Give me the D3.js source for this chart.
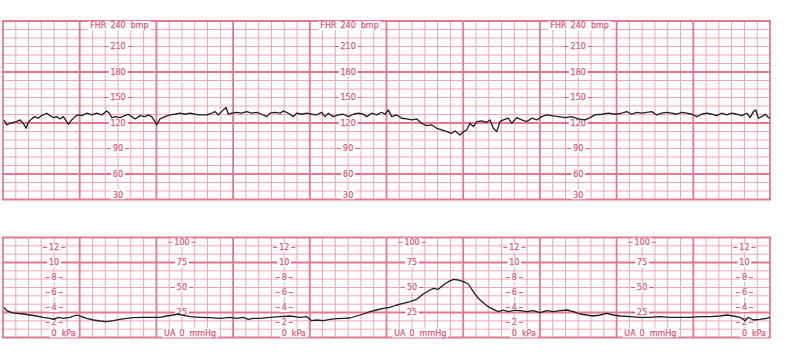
<!DOCTYPE html>
<html><head><meta charset="utf-8">
<script src="https://cdn.jsdelivr.net/npm/d3@7"></script>
<style>body{margin:0;background:#fff}svg{display:block}</style>
</head><body>
<svg id="c" width="791" height="354"></svg>
<script>
// ---------- data ----------
const fhrTickLabels = [210, 180, 150, 120, 90, 60, 30];
const fhrTopLabel = 240;
const uaMmHgTickLabels = [75, 50, 25];
const uaMmHgTopLabel = 100;
const uaKpaTickLabels = [12, 10, 8, 6, 4, 2];
const fhrLabelColumns = [90, 270, 450];      // seconds
const mmHgLabelColumns = [140, 320, 500];    // seconds
const kpaLabelColumns = [40, 220, 400, 580]; // seconds

const fhrTime = [0.8,2.9,5.5,8.1,10.7,13.3,15.9,18.0,19.8,22.4,25.0,27.6,30.2,34.2,36.8,39.4,42.0,44.6,47.2,49.8,51.1,53.7,56.3,58.9,61.6,65.5,69.4,73.3,77.2,81.1,83.2,85.0,87.6,91.5,95.4,98.0,100.7,103.3,107.2,111.1,113.7,116.3,118.9,120.2,122.8,126.7,130.6,134.6,138.5,142.4,146.3,150.2,154.1,159.4,163.3,165.9,168.4,172.4,174.5,176.3,178.9,182.8,186.7,190.6,194.6,198.5,202.4,206.3,208.9,212.8,216.7,219.3,223.2,227.1,229.7,233.7,237.6,241.5,245.4,249.3,251.9,254.5,258.4,262.3,266.2,270.2,274.1,278.0,281.9,284.5,288.4,292.3,296.2,298.8,301.4,304.1,308.0,311.9,315.8,319.7,323.6,327.5,331.4,335.4,339.3,343.2,347.1,351.0,353.6,357.5,360.1,362.7,365.3,368.0,370.6,374.5,378.4,381.0,383.6,386.2,388.8,391.4,395.3,398.0,401.9,405.8,409.7,413.6,417.5,421.4,425.3,429.2,434.4,439.7,444.9,450.1,455.3,459.2,463.1,468.4,473.6,478.8,484.0,487.9,491.8,495.8,499.7,503.6,507.5,511.4,515.3,519.2,523.1,527.0,530.9,534.9,538.8,542.7,546.6,550.5,554.4,558.3,562.2,566.2,570.1,574.0,577.9,581.8,584.4,587.0,588.9,590.9,593.6,596.2,598.8,600];
const fhrBpm = [123.6,117.7,119.7,120.8,121.6,123.6,119.7,113.8,120.8,124.8,127.5,125.6,128.7,131.5,128.7,126.4,127.5,124.8,127.5,121.6,118.5,123.6,127.5,129.5,128.7,131.5,129.5,131.5,129.5,134.2,131.5,126.4,127.5,126.4,128.7,130.3,127.5,124.8,128.7,127.5,129.5,127.5,121.6,117.7,124.8,127.5,129.5,130.3,131.5,130.3,131.5,130.3,129.5,129.5,131.5,133.4,129.5,135.4,138.2,130.3,131.5,132.6,131.5,133.4,131.5,132.6,130.3,127.5,131.5,132.6,131.5,134.2,131.5,127.5,131.5,130.3,131.5,130.3,129.5,132.6,127.5,131.5,127.5,129.5,130.3,127.5,130.3,131.5,130.3,127.5,131.5,129.5,132.6,130.3,135.4,127.5,129.5,125.6,124.8,123.6,124.8,119.7,116.9,117.7,113.8,111.8,109.8,107.9,110.6,105.9,109.8,111.8,119.7,115.7,121.6,122.4,120.8,123.6,113.8,109.8,121.6,123.6,125.6,119.7,126.4,123.6,121.6,125.6,123.6,127.5,129.5,128.7,127.5,126.4,127.5,124.8,123.6,126.4,129.5,130.3,131.5,130.3,131.5,133.4,130.3,132.6,131.5,132.6,133.4,129.5,131.5,132.6,131.5,130.3,132.6,131.5,130.3,127.5,130.3,131.5,130.3,128.7,131.5,129.5,131.5,130.3,128.7,131.5,126.4,133.4,135.4,125.6,127.5,130.3,126.4,125.6];

const uaTime = [0.8,2.9,6.8,10.7,15.9,21.1,26.3,31.5,36.8,39.4,43.3,47.2,52.4,57.6,61.6,65.5,70.7,75.9,81.1,86.3,91.5,96.8,101.9,109.8,117.6,122.8,128.1,133.2,137.2,141.1,146.3,154.1,161.9,169.8,177.6,182.8,188.0,191.9,195.8,201.0,208.9,216.7,224.5,232.3,237.6,241.5,245.4,250.6,255.8,261.0,266.2,271.4,276.7,281.9,287.1,292.3,297.5,302.7,308.0,313.1,318.4,323.6,328.8,334.0,336.6,340.5,344.4,348.4,352.3,356.2,360.1,364.0,367.9,371.8,375.7,379.6,383.6,387.5,391.4,395.3,399.2,404.4,409.7,414.9,420.1,425.3,430.5,435.7,441.0,446.2,451.4,456.6,461.8,467.0,472.3,477.4,482.7,490.5,498.3,506.1,513.9,521.8,529.6,537.4,545.2,553.1,560.9,566.1,571.3,576.5,580.4,583.0,586.9,592.2,597.4,600];
const uaMmHg = [30.2,26.8,24.8,24.2,23.5,22.5,21.5,20.2,19.2,18.2,20.2,19.2,20.2,22.5,20.8,19.2,17.5,16.5,15.8,16.8,18.2,19.2,19.8,20.2,20.2,20.2,21.5,22.5,23.5,22.2,20.8,20.2,19.8,19.2,20.2,19.2,20.2,18.2,19.2,19.2,20.2,20.8,21.5,20.2,20.8,16.8,17.5,16.8,18.2,18.8,19.2,19.5,21.5,23.5,25.8,27.5,29.2,30.2,32.5,34.2,35.8,38.2,43.5,47.5,49.2,48.2,52.5,55.8,58.2,57.5,55.8,53.5,45.8,39.2,34.8,30.8,28.2,25.8,27.5,25.8,26.8,26.8,25.8,26.8,24.8,26.8,25.8,26.8,27.5,25.8,23.5,22.5,21.5,22.5,24.2,22.5,21.5,20.8,20.2,20.2,20.8,20.2,20.2,20.2,20.8,20.8,21.5,22.5,21.5,20.2,16.8,20.2,17.5,18.2,19.2,20.2];

// ---------- drawing ----------
const svg = d3.select("#c");
const KPA = 7.50062;
const minorC = "#f2a6b7", majorC = "#e47891", textC = "#de5a7a";
const FONT = "DejaVu Sans, Verdana, sans-serif";

const x = d3.scaleLinear().domain([0, 600]).range([3, 770]);
const yF = d3.scaleLinear().domain([30, 240]).range([199.5, 21]);
const yU = d3.scaleLinear().domain([0, 100]).range([337.5, 237.5]);

function drawGrid(y, hMinor, hMajor) {
  const g = svg.append("g");
  const [yb, yt] = y.range();
  const tv = d3.range(0, 601, 10);
  const vMinor = tv.filter(t => t % 60 !== 0);
  const vMajor = tv.filter(t => t % 60 === 0);
  g.selectAll(".hm").data(hMinor).join("line")
    .attr("x1", x(0)).attr("x2", x(600)).attr("y1", d => y(d)).attr("y2", d => y(d))
    .attr("stroke", minorC).attr("stroke-width", 1);
  g.selectAll(".vm").data(vMinor).join("line")
    .attr("x1", d => x(d)).attr("x2", d => x(d)).attr("y1", yb).attr("y2", yt)
    .attr("stroke", minorC).attr("stroke-width", 1);
  g.selectAll(".hM").data(hMajor).join("line")
    .attr("x1", x(0) - 0.9).attr("x2", x(600) + 0.9).attr("y1", d => y(d)).attr("y2", d => y(d))
    .attr("stroke", majorC).attr("stroke-width", 1.8);
  g.selectAll(".vM").data(vMajor).join("line")
    .attr("x1", d => x(d)).attr("x2", d => x(d)).attr("y1", yb).attr("y2", yt)
    .attr("stroke", majorC).attr("stroke-width", 1.8);
}

const fhrGridAll = d3.range(30, 241, 10);
const fhrMajor = [240, 180, 120, 60, 30];
drawGrid(yF, fhrGridAll.filter(v => !fhrMajor.includes(v)), fhrMajor);

const uaGridAll = d3.range(0, 13).map(i => i * 100 / 12);
const uaMajorIdx = [0, 3, 9, 12];
drawGrid(yU, uaGridAll.filter((v, i) => !uaMajorIdx.includes(i)), uaMajorIdx.map(i => uaGridAll[i]));

const labels = svg.append("g").attr("font-family", FONT).attr("font-size", 8)
  .attr("fill", textC).attr("stroke", textC).attr("stroke-width", 0.25);

function label(cx, cy, num, pre, suf, dashes) {
  const g = labels.append("g");
  const bg = g.append("rect").attr("fill", "#fff").attr("stroke", "none");
  const t = g.append("text").attr("x", cx).attr("y", cy).attr("dy", "0.36em")
    .attr("text-anchor", "middle").text(num);
  const nb = t.node().getBBox();
  if (pre) g.append("text").attr("x", nb.x - 4).attr("y", cy).attr("dy", "0.36em")
    .attr("text-anchor", "end").text(pre);
  if (suf) g.append("text").attr("x", nb.x + nb.width + 5).attr("y", cy).attr("dy", "0.36em")
    .attr("text-anchor", "start").text(suf);
  const tb = g.node().getBBox();
  bg.attr("x", tb.x - 2).attr("y", cy - 4.5).attr("width", tb.width + 4).attr("height", 9);
  if (dashes) {
    [[nb.x - 6, nb.x - 2], [nb.x + nb.width + 2, nb.x + nb.width + 6]].forEach(([a, b]) => {
      g.append("line").attr("x1", a).attr("x2", b).attr("y1", cy).attr("y2", cy)
        .attr("stroke", textC).attr("stroke-width", 1);
    });
  }
}

fhrLabelColumns.forEach(t => {
  const cx = x(t);
  label(cx, yF(fhrTopLabel) + 4.6, fhrTopLabel, "FHR", "bmp", false);
  fhrTickLabels.forEach(v => {
    const cy = v === 30 ? yF(v) - 4.8 : yF(v);
    label(cx, cy, v, null, null, v !== 30);
  });
});

mmHgLabelColumns.forEach(t => {
  const cx = x(t);
  label(cx, yU(uaMmHgTopLabel) + 4.8, uaMmHgTopLabel, null, null, true);
  uaMmHgTickLabels.forEach(v => label(cx, yU(v), v, null, null, true));
  label(cx, yU(0) - 4.6, 0, "UA", "mmHg", false);
});

kpaLabelColumns.forEach(t => {
  const cx = x(t);
  uaKpaTickLabels.forEach(v => label(cx, yU(v * KPA), v, null, null, true));
  label(cx, yU(0) - 4.6, 0, null, "kPa", false);
});

// traces
const fhrLine = d3.line().x(d => x(d[0])).y(d => yF(d[1]));
svg.append("path").datum(d3.zip(fhrTime, fhrBpm)).attr("d", fhrLine)
  .attr("fill", "none").attr("stroke", "#1e1e1e").attr("stroke-width", 1.3).attr("stroke-linejoin", "round");

const uaLine = d3.line().x(d => x(d[0])).y(d => yU(d[1]));
svg.append("path").datum(d3.zip(uaTime, uaMmHg)).attr("d", uaLine)
  .attr("fill", "none").attr("stroke", "#1e1e1e").attr("stroke-width", 1.3).attr("stroke-linejoin", "round");
</script>
</body></html>
